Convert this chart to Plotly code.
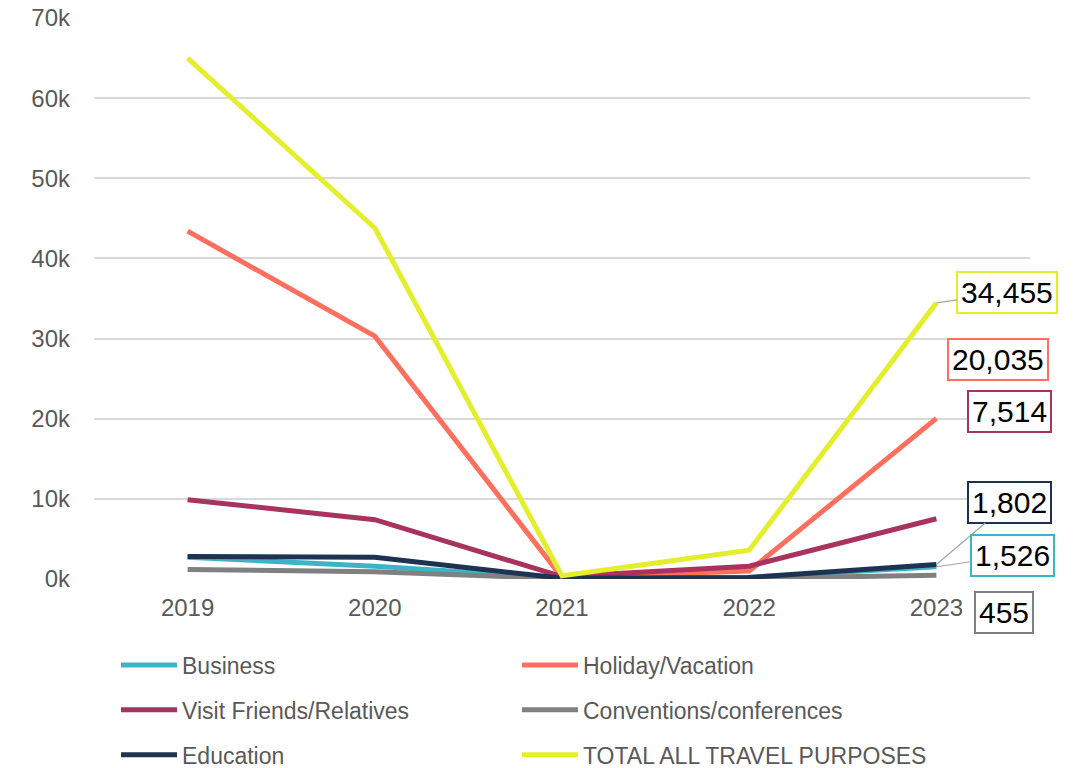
import plotly.graph_objects as go

years = ["2019", "2020", "2021", "2022", "2023"]

business = [2700, 1600, 100, 200, 1526]
holiday = [43400, 30300, 200, 1000, 20035]
visit_friends = [9900, 7400, 300, 1600, 7514]
conventions = [1200, 900, 50, 100, 455]
education = [2800, 2700, 100, 200, 1802]
total = [65000, 43800, 400, 3600, 34455]

# name, values, colour, legend column
series = [
    ("Business", business, "#3fb3c6", "legend"),
    ("Holiday/Vacation", holiday, "#ff6f5e", "legend2"),
    ("Visit Friends/Relatives", visit_friends, "#a8335f", "legend"),
    ("Conventions/conferences", conventions, "#808080", "legend2"),
    ("Education", education, "#1c3351", "legend"),
    ("TOTAL ALL TRAVEL PURPOSES", total, "#e3ef2d", "legend2"),
]

fig = go.Figure()
for name, vals, color, leg in series:
    fig.add_trace(go.Scatter(
        x=years, y=vals, name=name, mode="lines",
        line=dict(color=color, width=5),
        legend=leg, legendgroup=name,
    ))

# end-of-line value labels: (series index, leader line?, dx right, dy up)
label_specs = [
    (5, True, 71, 10),
    (1, False, 62, 59),
    (2, False, 73, 107),
    (4, True, 73, 62),
    (0, True, 76, 11),
    (3, False, 68, -37),
]
for idx, arrow, dx, dy in label_specs:
    name, vals, color, _ = series[idx]
    v = vals[-1]
    common = dict(
        x=4, y=v, xref="x", yref="y",
        text=f"{v:,}",
        font=dict(family="Liberation Sans", size=30, color="#000000"),
        bgcolor="#ffffff", bordercolor=color, borderwidth=2, borderpad=3,
    )
    if arrow:
        fig.add_annotation(**common, showarrow=True, ax=dx, ay=-dy,
                           arrowhead=0, arrowwidth=1.2, arrowcolor="#a6a6a6",
                           standoff=0)
    else:
        fig.add_annotation(**common, showarrow=False, xshift=dx, yshift=dy)

legend_font = dict(family="Liberation Sans", size=23, color="#595959")
leg_common = dict(orientation="v", xanchor="left", yanchor="middle",
                  traceorder="grouped", tracegroupgap=12,
                  font=legend_font, bgcolor="rgba(0,0,0,0)", itemwidth=56)

fig.update_layout(
    width=1076, height=768,
    margin=dict(l=94, r=46, t=18, b=189, autoexpand=False),
    paper_bgcolor="#ffffff", plot_bgcolor="#ffffff",
    legend=dict(**leg_common, x=0.0235, y=-0.2335),
    legend2=dict(**leg_common, x=0.4519, y=-0.2335),
    xaxis=dict(
        type="category", range=[-0.5, 4.5],
        showgrid=False, zeroline=False, showline=False,
        tickfont=dict(family="Liberation Sans", size=24, color="#595959"),
        ticklabelstandoff=12,
    ),
    yaxis=dict(
        range=[0, 70000], tickvals=[0, 10000, 20000, 30000, 40000, 50000, 60000, 70000],
        ticktext=["0k", "10k", "20k", "30k", "40k", "50k", "60k", "70k"],
        showgrid=True, gridcolor="#d9d9d9", gridwidth=1.5,
        zeroline=False, showline=False,
        tickfont=dict(family="Liberation Sans", size=24, color="#595959"),
        ticklabelstandoff=23,
    ),
)

fig.write_html("out.html")
